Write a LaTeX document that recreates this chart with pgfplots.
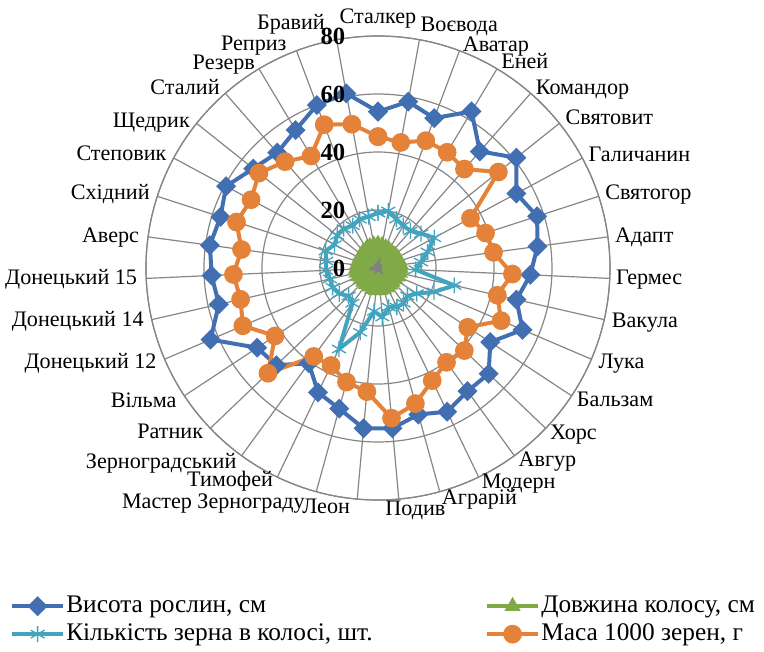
\documentclass[border=0pt]{standalone}
\usepackage{fontspec}
\setmainfont{Liberation Serif}
\usepackage{pgfplots}
\usepackage{pgfplotstable}
\usepgfplotslibrary{polar}
\pgfplotsset{compat=1.18}

\definecolor{cHeight}{RGB}{66,111,178}
\definecolor{cLength}{RGB}{128,170,72}
\definecolor{cGrain}{RGB}{66,164,190}
\definecolor{cMass}{RGB}{227,130,56}
\definecolor{cExtra}{RGB}{128,128,128}
\definecolor{cGrid}{RGB}{134,134,134}

% a: angle of the spoke (clockwise from the top), h: plant height, d: ear length,
% k: grains per ear, m: 1000-grain mass, z: auxiliary series
\pgfplotstableread{
a            h     d    k     m     z
90           53.9  8.2  19    45.3  2.0
79.7142857   58.3  8.0  20    44.0  3.2
69.4285714   55.2  7.6  18    46.9  1.5
59.1428571   62.9  7.4  17    46.5  1.2
48.8571429   53.4  7.2  17    45.3  1.4
38.5714286   61.0  7.4  19    53.1  1.6
28.2857143   54.2  7.6  22    36.2  1.2
18           57.7  7.8  18    39.0  1.0
7.7142857    55.5  8.0  15    40.2  1.2
-2.5714286   52.6  8.0  13    46.4  1.3
-12.8571429  49.0  7.8  27    42.2  1.0
-23.1428571  54.2  7.6  21    46.2  1.2
-33.4285714  46.4  7.2  16    37.1  1.4
-43.7142857  52.8  7.0  14    41.2  1.6
-54          52.5  7.2  15    40.2  2.4
-64.2857143  55.0  7.4  15    43.1  1.5
-74.5714286  52.4  7.6  14    48.5  1.2
-84.8571429  55.5  7.8  17    52.0  1.0
-95.1428571  55.5  7.8  15    42.8  1.2
-105.4285714 50.3  7.6  23    40.8  1.4
-115.7142857 47.6  7.2  31    37.3  1.8
-126         40.6  7.0  15    37.7  1.3
-136.2857143 48.5  7.0  14    52.5  1.1
-146.5714286 49.9  7.2  16    42.5  1.2
-156.8571429 62.8  7.4  17    50.7  1.5
-167.1428571 56.3  7.6  17    48.6  2.6
-177.4285714 57.4  7.6  18    49.9  2.8
-187.7142857 58.5  7.4  18    47.5  2.0
-198         57.1  7.2  19    51.3  1.4
-208.2857143 59.5  7.2  17    49.7  1.2
-218.5714286 55.0  7.4  18    52.5  1.3
-228.8571429 52.8  7.6  18    48.7  1.5
-239.1428571 55.4  7.8  17    45.0  1.6
-249.4285714 60.0  8.0  18    52.8  1.8
-259.7142857 61.2  8.2  18    50.4  1.7
-270         53.9  8.2  19    45.3  2.0
}\wheat

% category name at the rim of the chart: angle, anchor, x shift, y shift, text
\newcommand{\cat}[5]{%
  \node[anchor=#2, xshift=#3pt, yshift=#4pt, inner sep=0pt,
        text height=11pt, text depth=0pt,
        font=\fontsize{16.6pt}{20pt}\selectfont]
    at (axis cs:#1,80) {#5};}

\begin{document}
\begin{tikzpicture}
\path[use as bounding box] (-283.5pt,-287.25pt) rectangle (289.5pt,201pt);
\begin{polaraxis}[
  at={(0pt,0pt)}, anchor=center,
  scale only axis, width=348pt, height=348pt,
  xmin=-270, xmax=90, ymin=0, ymax=80,
  clip=false,
  xtick={90,79.7142857,69.4285714,59.1428571,48.8571429,38.5714286,28.2857143,18,7.7142857,-2.5714286,-12.8571429,-23.1428571,-33.4285714,-43.7142857,-54,-64.2857143,-74.5714286,-84.8571429,-95.1428571,-105.4285714,-115.7142857,-126,-136.2857143,-146.5714286,-156.8571429,-167.1428571,-177.4285714,-187.7142857,-198,-208.2857143,-218.5714286,-228.8571429,-239.1428571,-249.4285714,-259.7142857},
  xticklabels={},
  ytick={0,20,40,60,80},
  yticklabels={},
  major tick length=0pt,
  grid=major,
  major grid style={draw=cGrid, line width=0.9pt},
  axis line style={draw=cGrid, line width=0.9pt},
  y axis line style={draw=none},
  legend columns=2,
  legend cell align=left,
  legend style={
    at={(axis description cs:-0.293,-0.198)}, anchor=north west,
    draw=none, fill=none, inner sep=0pt,
    font=\fontsize{19pt}{22pt}\selectfont,
    row sep=0pt,
    nodes={inner sep=1pt, text height=14pt, text depth=5pt},
    /tikz/every even column/.append style={column sep=83.5pt},
  },
  legend image code/.code={
    \draw[mark repeat=2, mark phase=2, #1]
      plot coordinates {(0pt,0pt) (19pt,0pt) (38pt,0pt)};
  },
]
\addplot[cHeight, line width=3pt, mark=square*, mark size=3.8pt,
  mark options={rotate=45, solid}]
  table[x=a, y=h] {\wheat};
\addlegendentry{Висота рослин, см}

\addplot[cLength, line width=3pt, fill=cLength, mark=triangle*, mark size=4pt,
  mark options={solid}]
  table[x=a, y=d] {\wheat};
\addlegendentry{Довжина колосу, см}

\addplot[cGrain, line width=3pt, mark=asterisk, mark size=6pt,
  mark options={solid, line width=1pt}]
  table[x=a, y=k] {\wheat};
\addlegendentry{Кількість зерна в колосі, шт.}

\addplot[cMass, line width=3pt, mark=*, mark size=5.5pt,
  mark options={solid}]
  table[x=a, y=m] {\wheat};
\addlegendentry{Маса 1000 зерен, г}

\addplot[cExtra, line width=1pt, fill=cExtra, forget plot]
  table[x=a, y=z] {\wheat};

% anchor points of the radial scale on the vertical spoke
\coordinate (r0)  at (axis cs:90,0);
\coordinate (r20) at (axis cs:90,20);
\coordinate (r40) at (axis cs:90,40);
\coordinate (r60) at (axis cs:90,60);
\coordinate (r80) at (axis cs:90,80);

% variety names
\cat{90}{center}{0}{14.6}{Сталкер}
\cat{79.7142857}{west}{0.75}{11.8}{Воєвода}
\cat{69.4285714}{west}{2.25}{5.0}{Аватар}
\cat{59.1428571}{west}{3.0}{5.55}{Еней}
\cat{48.8571429}{west}{3.75}{4.95}{Командор}
\cat{38.5714286}{west}{4.5}{4.5}{Святовит}
\cat{28.2857143}{west}{4.5}{2.6}{Галичанин}
\cat{18}{west}{4.8}{2.85}{Святогор}
\cat{7.7142857}{west}{5.25}{1.4}{Адапт}
\cat{-2.5714286}{west}{4.65}{0.7}{Гермес}
\cat{-12.8571429}{west}{5.6}{-0.3}{Вакула}
\cat{-23.1428571}{west}{5.25}{-1.2}{Лука}
\cat{-33.4285714}{west}{3.75}{-2.5}{Бальзам}
\cat{-43.7142857}{west}{3.2}{-2.6}{Хорс}
\cat{-54}{west}{3.0}{-2.5}{Авгур}
\cat{-64.2857143}{west}{2.25}{-2.85}{Модерн}
\cat{-74.5714286}{west}{1.5}{-4.35}{Аграрій}
\cat{-84.8571429}{west}{-10.2}{-6.75}{Подив}
\cat{-95.1428571}{east}{-5.25}{-5.25}{Леон}
\cat{-105.4285714}{east}{-8.5}{-7.35}{Мастер Зернограду}
\cat{-115.7142857}{east}{-3.1}{-1.5}{Тимофей}
\cat{-126}{east}{-3.7}{-3.8}{Зерноградський}
\cat{-136.2857143}{east}{-5.25}{-1.95}{Ратник}
\cat{-146.5714286}{east}{-5.7}{-3.2}{Вільма}
\cat{-156.8571429}{east}{-5.9}{-1.35}{Донецький 12}
\cat{-167.1428571}{east}{-5.85}{0}{Донецький 14}
\cat{-177.4285714}{east}{-6.7}{0.7}{Донецький 15}
\cat{-187.7142857}{east}{-6.6}{1.4}{Аверс}
\cat{-198}{east}{-5.55}{2.85}{Східний}
\cat{-208.2857143}{east}{-5.25}{3.75}{Степовик}
\cat{-218.5714286}{east}{-4.95}{2.25}{Щедрик}
\cat{-228.8571429}{east}{-4.1}{4.35}{Сталий}
\cat{-239.1428571}{east}{-2.85}{4.9}{Резерв}
\cat{-249.4285714}{east}{-7.3}{6.0}{Реприз}
\cat{-259.7142857}{east}{-8.6}{12.9}{Бравий}
\end{polaraxis}

% radial scale, set above the series
\foreach \r in {0,20,40,60,80}
  \node[anchor=east, xshift=-21pt, font=\fontsize{18.5pt}{20pt}\bfseries]
    at (r\r) {\r};
\end{tikzpicture}
\end{document}
